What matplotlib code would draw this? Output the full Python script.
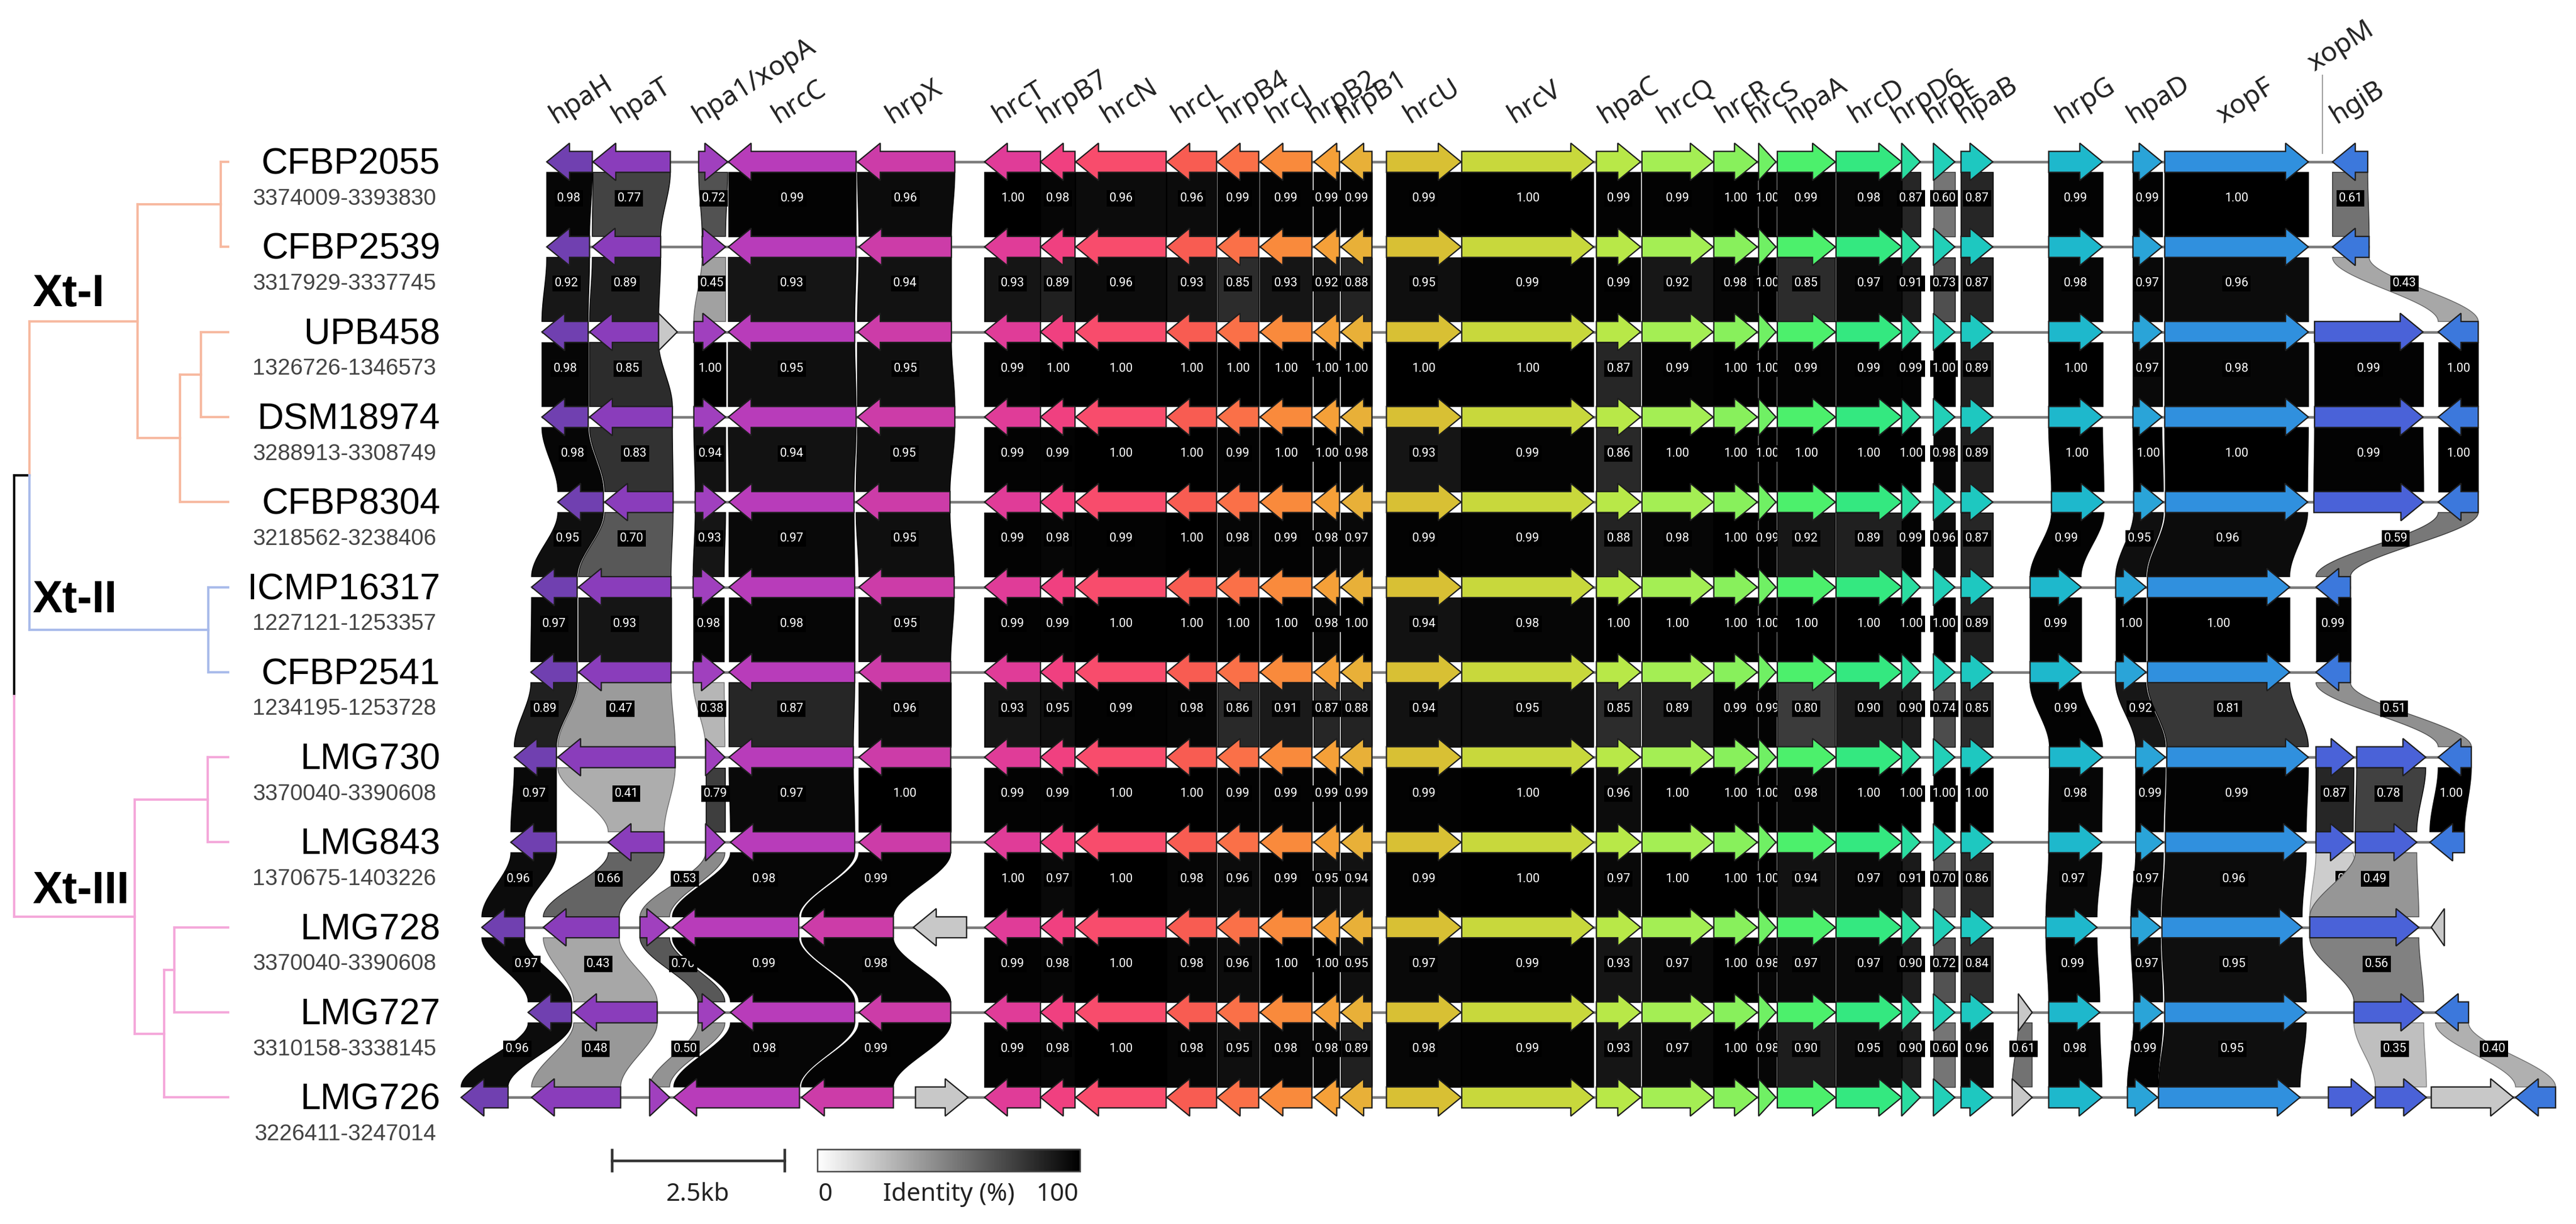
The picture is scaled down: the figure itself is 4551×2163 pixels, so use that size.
import numpy as np
import matplotlib
matplotlib.use("Agg")
import matplotlib.pyplot as plt
from matplotlib.patches import Polygon
from matplotlib.colors import LinearSegmentedColormap

# ---------------- data ----------------
STRAINS = ["CFBP2055", "CFBP2539", "UPB458", "DSM18974", "CFBP8304", "ICMP16317",
           "CFBP2541", "LMG730", "LMG843", "LMG728", "LMG727", "LMG726"]
COORDS = ["3374009-3393830", "3317929-3337745", "1326726-1346573", "3288913-3308749",
          "3218562-3238406", "1227121-1253357", "1234195-1253728", "3370040-3390608",
          "1370675-1403226", "3370040-3390608", "3310158-3338145", "3226411-3247014"]

NEWICK = ("((((CFBP2055:0.13,CFBP2539:0.13):1.47,((UPB458:0.48,DSM18974:0.48):0.37,"
          "CFBP8304:0.85):0.75)XtI:1.91,(ICMP16317:0.35,CFBP2541:0.35)XtII:3.16)XtI_II:0.27,"
          "((LMG730:0.36,LMG843:0.36):1.29,((LMG728:0.95,LMG727:0.95):0.18,LMG726:1.13):0.52)XtIII:2.13);")
CLADE_NAMES = ["Xt-I", "Xt-II", "Xt-III"]
CLADE_ROWS = [1.56, 5.16, 8.58]
CLADE_COLORS = {"XtI": "#F7B9A0", "XtII": "#A9BBEA", "XtIII": "#F4A8DA"}

# core genes shared by every strain: name, start (kb), end (kb), strand
CORE = [("hrcT", 7.70, 8.51, -1), ("hrpB7", 8.51, 9.01, -1), ("hrcN", 9.02, 10.33, -1),
        ("hrcL", 10.34, 11.06, -1), ("hrpB4", 11.07, 11.67, -1), ("hrcJ", 11.69, 12.44, -1),
        ("hrpB2", 12.47, 12.84, -1), ("hrpB1", 12.86, 13.31, -1), ("hrcU", 13.52, 14.60, 1),
        ("hrcV", 14.61, 16.52, 1), ("hpaC", 16.56, 17.20, 1), ("hrcQ", 17.22, 18.25, 1),
        ("hrcR", 18.26, 18.89, 1), ("hrcS", 18.91, 19.16, 1), ("hpaA", 19.18, 20.02, 1),
        ("hrcD", 20.03, 20.98, 1), ("hrpD6", 20.98, 21.25, 1), ("hrpE", 21.44, 21.75, 1),
        ("hpaB", 21.84, 22.30, 1)]

LEFT = [
    [("hpaH", 1.36, 2.02, -1), ("hpaT", 2.03, 3.15, -1), ("hpa1/xopA", 3.56, 3.98, 1), ("hrcC", 3.99, 5.84, -1), ("hrpX", 5.86, 7.27, -1)],
    [("hpaH", 1.36, 1.98, -1), ("hpaT", 2.02, 3.01, -1), ("hpa1/xopA", 3.61, 3.95, 1), ("hrcC", 3.99, 5.84, -1), ("hrpX", 5.88, 7.22, -1)],
    [("hpaH", 1.29, 1.96, -1), ("hpaT", 1.98, 2.98, -1), ("orf1", 2.98, 3.25, 1), ("hpa1/xopA", 3.49, 3.95, 1), ("hrcC", 3.99, 5.82, -1), ("hrpX", 5.86, 7.22, -1)],
    [("hpaH", 1.29, 1.96, -1), ("hpaT", 1.98, 3.18, -1), ("hpa1/xopA", 3.49, 3.95, 1), ("hrcC", 3.99, 5.84, -1), ("hrpX", 5.86, 7.27, -1)],
    [("hpaH", 1.52, 2.18, -1), ("hpaT", 2.20, 3.19, -1), ("hpa1/xopA", 3.51, 3.95, 1), ("hrcC", 4.00, 5.81, -1), ("hrpX", 5.84, 7.20, -1)],
    [("hpaH", 1.14, 1.80, -1), ("hpaT", 1.82, 3.16, -1), ("hpa1/xopA", 3.48, 3.93, 1), ("hrcC", 4.00, 5.82, -1), ("hrpX", 5.88, 7.26, -1)],
    [("hpaH", 1.13, 1.80, -1), ("hpaT", 1.82, 3.16, -1), ("hpa1/xopA", 3.48, 3.93, 1), ("hrcC", 4.00, 5.82, -1), ("hrpX", 5.88, 7.21, -1)],
    [("hpaH", 0.89, 1.50, -1), ("hpaT", 1.52, 3.22, -1), ("hpa1/xopA", 3.66, 3.94, 1), ("hrcC", 4.00, 5.80, -1), ("hrpX", 5.88, 7.21, -1)],
    [("hpaH", 0.84, 1.50, -1), ("hpaT", 2.25, 3.06, -1), ("hpa1/xopA", 3.66, 3.94, 1), ("hrcC", 4.02, 5.82, -1), ("hrpX", 5.88, 7.21, -1)],
    [("hpaH", 0.42, 1.04, -1), ("hpaT", 1.31, 2.41, -1), ("hpa1/xopA", 2.71, 3.14, 1), ("hrcC", 3.18, 5.01, -1), ("hrpX", 5.05, 6.38, -1), ("orf2", 6.67, 7.44, -1)],
    [("hpaH", 1.09, 1.72, -1), ("hpaT", 1.75, 2.96, -1), ("hpa1/xopA", 3.55, 3.94, 1), ("hrcC", 4.02, 5.82, -1), ("hrpX", 5.88, 7.21, -1)],
    [("hpaH", 0.12, 0.80, -1), ("hpaT", 1.14, 2.43, -1), ("hpa1/xopA", 2.85, 3.14, 1), ("hrcC", 3.20, 5.02, -1), ("hrpX", 5.05, 6.38, -1), ("orf2", 6.70, 7.46, 1)],
]

RIGHT = [
    [("hrpG", 23.11, 23.89, 1), ("hpaD", 24.33, 24.75, 1), ("xopF", 24.79, 26.87, 1), ("hgiB", 27.22, 27.73, -1)],
    [("hrpG", 23.11, 23.89, 1), ("hpaD", 24.33, 24.75, 1), ("xopF", 24.79, 26.87, 1), ("hgiB", 27.22, 27.75, -1)],
    [("hrpG", 23.11, 23.89, 1), ("hpaD", 24.33, 24.75, 1), ("xopF", 24.79, 26.87, 1), ("xopM", 26.96, 28.53, 1), ("hgiB", 28.75, 29.33, -1)],
    [("hrpG", 23.11, 23.89, 1), ("hpaD", 24.33, 24.75, 1), ("xopF", 24.79, 26.87, 1), ("xopM", 26.96, 28.53, 1), ("hgiB", 28.75, 29.33, -1)],
    [("hrpG", 23.15, 23.91, 1), ("hpaD", 24.34, 24.77, 1), ("xopF", 24.80, 26.86, 1), ("xopM", 26.95, 28.54, 1), ("hgiB", 28.75, 29.33, -1)],
    [("hrpG", 22.84, 23.58, 1), ("hpaD", 24.08, 24.52, 1), ("xopF", 24.54, 26.60, 1), ("hgiB", 26.98, 27.48, -1)],
    [("hrpG", 22.84, 23.58, 1), ("hpaD", 24.08, 24.52, 1), ("xopF", 24.54, 26.60, 1), ("hgiB", 26.98, 27.48, -1)],
    [("hrpG", 23.12, 23.89, 1), ("hpaD", 24.37, 24.80, 1), ("xopF", 24.82, 26.87, 1), ("xopM2", 26.98, 27.53, 1), ("xopM", 27.57, 28.57, 1), ("hgiB", 28.75, 29.23, -1)],
    [("hrpG", 23.11, 23.88, 1), ("hpaD", 24.37, 24.77, 1), ("xopF", 24.80, 26.84, 1), ("xopM2", 26.98, 27.52, 1), ("xopM", 27.55, 28.44, 1), ("hgiB", 28.63, 29.13, -1)],
    [("hrpG", 23.07, 23.81, 1), ("hpaD", 24.30, 24.73, 1), ("xopF", 24.75, 26.78, 1), ("xopM", 26.89, 28.47, 1), ("orf4", 28.65, 28.84, -1)],
    [("orf3", 22.67, 22.87, 1), ("hrpG", 23.11, 23.85, 1), ("hpaD", 24.34, 24.76, 1), ("xopF", 24.79, 26.84, 1), ("xopM", 27.53, 28.54, 1), ("hgiB", 28.71, 29.19, -1)],
    [("orf3", 22.58, 22.87, 1), ("hrpG", 23.11, 23.88, 1), ("hpaD", 24.25, 24.69, 1), ("xopF", 24.70, 26.75, 1), ("xopM2", 27.16, 27.82, 1), ("xopM", 27.84, 28.58, 1), ("orf5", 28.65, 29.84, 1), ("hgiB", 29.87, 30.45, -1)],
]

GROUPS = ["hpaH", "hpaT", "hpa1/xopA", "hrcC", "hrpX", "hrcT", "hrpB7", "hrcN", "hrcL", "hrpB4",
          "hrcJ", "hrpB2", "hrpB1", "hrcU", "hrcV", "hpaC", "hrcQ", "hrcR", "hrcS", "hpaA",
          "hrcD", "hrpD6", "hrpE", "hpaB", "hrpG", "hpaD", "xopF"]
IDENT = [
    [.98, .77, .72, .99, .96, 1.00, .98, .96, .96, .99, .99, .99, .99, .99, 1.00, .99, .99, 1.00, 1.00, .99, .98, .87, .60, .87, .99, .99, 1.00],
    [.92, .89, .45, .93, .94, .93, .89, .96, .93, .85, .93, .92, .88, .95, .99, .99, .92, .98, 1.00, .85, .97, .91, .73, .87, .98, .97, .96],
    [.98, .85, 1.00, .95, .95, .99, 1.00, 1.00, 1.00, 1.00, 1.00, 1.00, 1.00, 1.00, 1.00, .87, .99, 1.00, 1.00, .99, .99, .99, 1.00, .89, 1.00, .97, .98],
    [.98, .83, .94, .94, .95, .99, .99, 1.00, 1.00, .99, 1.00, 1.00, .98, .93, .99, .86, 1.00, 1.00, 1.00, 1.00, 1.00, 1.00, .98, .89, 1.00, 1.00, 1.00],
    [.95, .70, .93, .97, .95, .99, .98, .99, 1.00, .98, .99, .98, .97, .99, .99, .88, .98, 1.00, .99, .92, .89, .99, .96, .87, .99, .95, .96],
    [.97, .93, .98, .98, .95, .99, .99, 1.00, 1.00, 1.00, 1.00, .98, 1.00, .94, .98, 1.00, 1.00, 1.00, 1.00, 1.00, 1.00, 1.00, 1.00, .89, .99, 1.00, 1.00],
    [.89, .47, .38, .87, .96, .93, .95, .99, .98, .86, .91, .87, .88, .94, .95, .85, .89, .99, .99, .80, .90, .90, .74, .85, .99, .92, .81],
    [.97, .41, .79, .97, 1.00, .99, .99, 1.00, 1.00, .99, .99, .99, .99, .99, 1.00, .96, 1.00, 1.00, 1.00, .98, 1.00, 1.00, 1.00, 1.00, .98, .99, .99],
    [.96, .66, .53, .98, .99, 1.00, .97, 1.00, .98, .96, .99, .95, .94, .99, 1.00, .97, 1.00, 1.00, 1.00, .94, .97, .91, .70, .86, .97, .97, .96],
    [.97, .43, .70, .99, .98, .99, .98, 1.00, .98, .96, 1.00, 1.00, .95, .97, .99, .93, .97, 1.00, .98, .97, .97, .90, .72, .84, .99, .97, .95],
    [.96, .48, .50, .98, .99, .99, .98, 1.00, .98, .95, .98, .98, .89, .98, .99, .93, .97, 1.00, .98, .90, .95, .90, .60, .96, .98, .99, .95],
]
# extra links: (upper row, gene upper, gene lower, identity, show label)
EXTRA = [
    (0, "hgiB", "hgiB", .61, True), (1, "hgiB", "hgiB", .43, True),
    (2, "xopM", "xopM", .99, True), (2, "hgiB", "hgiB", 1.00, True),
    (3, "xopM", "xopM", .99, True), (3, "hgiB", "hgiB", 1.00, True),
    (4, "hgiB", "hgiB", .59, True), (5, "hgiB", "hgiB", .99, True),
    (6, "hgiB", "hgiB", .51, True),
    (7, "xopM2", "xopM2", .87, True), (7, "xopM", "xopM", .78, True), (7, "hgiB", "hgiB", 1.00, True),
    (8, "xopM2", "xopM", .30, True), (8, "xopM", "xopM", .49, True),
    (9, "xopM", "xopM", .56, True),
    (10, "orf3", "orf3", .61, True), (10, "xopM", "xopM", .35, True), (10, "hgiB", "hgiB", .40, True),
]

COLORS = {"hpaH": "#7040B0", "hpaT": "#8A3DBB", "hpa1/xopA": "#A040BE", "hrcC": "#B83CBA",
          "hrpX": "#CC3CA8", "hrcT": "#E03C98", "hrpB7": "#F04080", "hrcN": "#F84C6C",
          "hrcL": "#F85C52", "hrpB4": "#FA7048", "hrcJ": "#F98A3C", "hrpB2": "#F5A038",
          "hrpB1": "#E8B038", "hrcU": "#D8C034", "hrcV": "#C8D83C", "hpaC": "#B8E848",
          "hrcQ": "#A4EE54", "hrcR": "#88F05C", "hrcS": "#70F064", "hpaA": "#4CF06C",
          "hrcD": "#34E880", "hrpD6": "#2ADCA0", "hrpE": "#22D0B8", "hpaB": "#1EC8C0",
          "hrpG": "#1EB8CC", "hpaD": "#2AA4D8", "xopF": "#3090DE", "xopM": "#4A62D8",
          "xopM2": "#4A62D8", "hgiB": "#3C78DC"}
GREY_GENE = "#C8C8C8"

TOP_LABELS = ["hpaH", "hpaT", "hpa1/xopA", "hrcC", "hrpX", "hrcT", "hrpB7", "hrcN", "hrcL",
              "hrpB4", "hrcJ", "hrpB2", "hrpB1", "hrcU", "hrcV", "hpaC", "hrcQ", "hrcR", "hrcS",
              "hpaA", "hrcD", "hrpD6", "hrpE", "hpaB", "hrpG", "hpaD", "xopF", "hgiB"]
XOPM_LABEL_X = 27.07
SCALEBAR_KB = 2.5
SCALEBAR_START = 2.30

# ---------------- figure ----------------
W, H, DPI = 4551, 2163, 300
fig = plt.figure(figsize=(W / DPI, H / DPI), dpi=DPI)
PX_PER_KB = 122.0
X0_PX = 800.0
ROW0_PX, ROW_PX = 286.0, 150.3
XLIM = (-X0_PX / PX_PER_KB, (W - X0_PX) / PX_PER_KB)
YLIM = ((H - ROW0_PX) / ROW_PX, -ROW0_PX / ROW_PX)

ax = fig.add_axes([0, 0, 1, 1])
ax.set_xlim(*XLIM)
ax.set_ylim(*YLIM)
ax.axis("off")

BH, HH, HL = 0.123, 0.22, 0.33

rows = []
for i in range(len(STRAINS)):
    genes = LEFT[i] + CORE + RIGHT[i]
    rows.append({g[0]: (g[1], g[2], g[3]) for g in genes})


def gray_of(ident):
    g = min(1.0, 1.15 * (1.0 - ident))
    return (g, g, g)


def draw_band(i, ga, gb, ident, z, label=True):
    a, b = rows[i][ga], rows[i + 1][gb]
    t = np.linspace(0, 1, 60)
    s = 3 * t ** 2 - 2 * t ** 3
    y = (i + BH) + ((i + 1 - BH) - (i + BH)) * t
    xl = a[0] + (b[0] - a[0]) * s
    xr = a[1] + (b[1] - a[1]) * s
    pts = np.concatenate([np.column_stack([xl, y]), np.column_stack([xr, y])[::-1]])
    col = gray_of(ident)
    edge = tuple(max(0, c - 0.25) for c in col)
    ax.add_patch(Polygon(pts, closed=True, facecolor=col, edgecolor=edge, lw=0.35, zorder=z))
    if label:
        xm = ((a[0] + a[1]) / 2 + (b[0] + b[1]) / 2) / 2
        ax.text(xm, i + 0.5 - 0.07, "%.2f" % ident, color="white", fontsize=5.2,
                family="Roboto", ha="center", va="center", zorder=z + 0.0005,
                bbox=dict(boxstyle="square,pad=0.18", fc="black", ec="none"))


z = 1.0
for i in range(len(IDENT)):
    links = [(i, g, g, IDENT[i][j], True) for j, g in enumerate(GROUPS)]
    links += [e for e in EXTRA if e[0] == i]
    links.sort(key=lambda e: rows[i][e[1]][0])
    for (ri, ga, gb, idv, lab) in links:
        if ga in rows[ri] and gb in rows[ri + 1]:
            draw_band(ri, ga, gb, idv, z, lab)
            z += 0.001

# row lines and arrows
for i, r in enumerate(rows):
    xs = [v[0] for v in r.values()] + [v[1] for v in r.values()]
    ax.plot([min(xs), max(xs)], [i, i], color="#7a7a7a", lw=1.1, zorder=3, solid_capstyle="butt")
    for name, (s0, e0, strand) in r.items():
        L = e0 - s0
        hl = min(HL, L)
        if strand > 0:
            b0, tip = s0, e0
            hb = e0 - hl
        else:
            b0, tip = e0, s0
            hb = s0 + hl
        pts = [(b0, i - BH), (hb, i - BH), (hb, i - HH), (tip, i), (hb, i + HH), (hb, i + BH), (b0, i + BH)]
        col = COLORS.get(name, GREY_GENE)
        ax.add_patch(Polygon(pts, closed=True, facecolor=col, edgecolor="#1e1e1e", lw=0.55,
                             joinstyle="miter", zorder=4))

# gene labels on top
LABEL_KW = dict(rotation=32, rotation_mode="anchor", ha="left", va="baseline",
                fontsize=11.5, color="#222222", family="Noto Sans", zorder=6)
for name in TOP_LABELS:
    s0, e0, _ = rows[0][name]
    ax.text((s0 + e0) / 2 - 0.20, -0.45, name, **LABEL_KW)
ax.text(XOPM_LABEL_X - 0.12, -1.06, "xopM", **LABEL_KW)
ax.plot([XOPM_LABEL_X, XOPM_LABEL_X], [-1.02, -0.1], color="#a0a0a0", lw=0.5, zorder=5)

# strain labels
for i, (nm, co) in enumerate(zip(STRAINS, COORDS)):
    ax.text(-0.18, i + 0.03, nm, ha="right", va="center", fontsize=15.5,
            family="Liberation Sans", color="black")
    ax.text(-0.24, i + 0.43, co, ha="right", va="center", fontsize=9.6,
            family="Liberation Sans", color="#444444")

for nm, ry in zip(CLADE_NAMES, CLADE_ROWS):
    ax.text(-6.09, ry, nm, ha="left", va="center", fontsize=19, fontweight="bold",
            family="Liberation Sans", color="black", zorder=7)

# scale bar
sb_y = 11.74
ax.plot([SCALEBAR_START, SCALEBAR_START + SCALEBAR_KB], [sb_y, sb_y], color="#333333", lw=1.1)
for xx in (SCALEBAR_START, SCALEBAR_START + SCALEBAR_KB):
    ax.plot([xx, xx], [sb_y - 0.12, sb_y + 0.12], color="#333333", lw=1.1)
ax.text(SCALEBAR_START + SCALEBAR_KB / 2, 12.14, "%.1fkb" % SCALEBAR_KB, ha="center", va="center",
        fontsize=10.5, family="Noto Sans", color="#222222")

# identity colour bar
cmap = LinearSegmentedColormap.from_list("idn", ["white", "black"])
grad = np.linspace(0, 1, 256)[None, :]
cb_x0, cb_x1 = 5.28, 9.08
ax.imshow(grad, cmap=cmap, aspect="auto", extent=(cb_x0, cb_x1, 11.87, 11.61), zorder=2)
ax.add_patch(plt.Rectangle((cb_x0, 11.61), cb_x1 - cb_x0, 0.26, fill=False, ec="#444444", lw=0.6, zorder=3))
ax.text(5.40, 12.14, "0", ha="center", va="center", fontsize=10.5, family="Noto Sans", color="#222222")
ax.text(7.18, 12.14, "Identity (%)", ha="center", va="center", fontsize=10.5, family="Noto Sans", color="#222222")
ax.text(8.75, 12.14, "100", ha="center", va="center", fontsize=10.5, family="Noto Sans", color="#222222")
ax.set_xlim(*XLIM)
ax.set_ylim(*YLIM)


# ---------------- tree ----------------
def parse_newick(s):
    pos = [0]

    def node():
        children = []
        if s[pos[0]] == "(":
            pos[0] += 1
            while True:
                children.append(node())
                c = s[pos[0]]
                pos[0] += 1
                if c == ")":
                    break
        name = ""
        while s[pos[0]] not in ":,();":
            name += s[pos[0]]
            pos[0] += 1
        length = 0.0
        if s[pos[0]] == ":":
            pos[0] += 1
            num = ""
            while s[pos[0]] not in ",();":
                num += s[pos[0]]
                pos[0] += 1
            length = float(num)
        return {"name": name, "len": length, "children": children}

    return node()


tree = parse_newick(NEWICK)


def layout(n, x0, col):
    n["x"] = x0 + n["len"]
    n["col"] = CLADE_COLORS.get(n["name"], col)
    if n["children"]:
        for c in n["children"]:
            layout(c, n["x"], n["col"])
        n["y"] = float(np.mean([c["y"] for c in n["children"]]))
    else:
        n["y"] = STRAINS.index(n["name"])


layout(tree, 0.0, "black")

tax = fig.add_axes([25 / W, 0, 378 / W, 1])
tax.set_xlim(0, 3.78)
tax.set_ylim(*YLIM)
tax.axis("off")
tax.patch.set_alpha(0)


def draw_tree(n):
    for c in n["children"]:
        tax.plot([n["x"], n["x"]], [n["y"], c["y"]], color=c["col"], lw=1.0,
                 solid_capstyle="projecting", clip_on=False)
        tax.plot([n["x"], c["x"]], [c["y"], c["y"]], color=c["col"], lw=1.0,
                 solid_capstyle="projecting", clip_on=False)
        draw_tree(c)


draw_tree(tree)

fig.savefig("out.png", dpi=DPI, facecolor="white")
